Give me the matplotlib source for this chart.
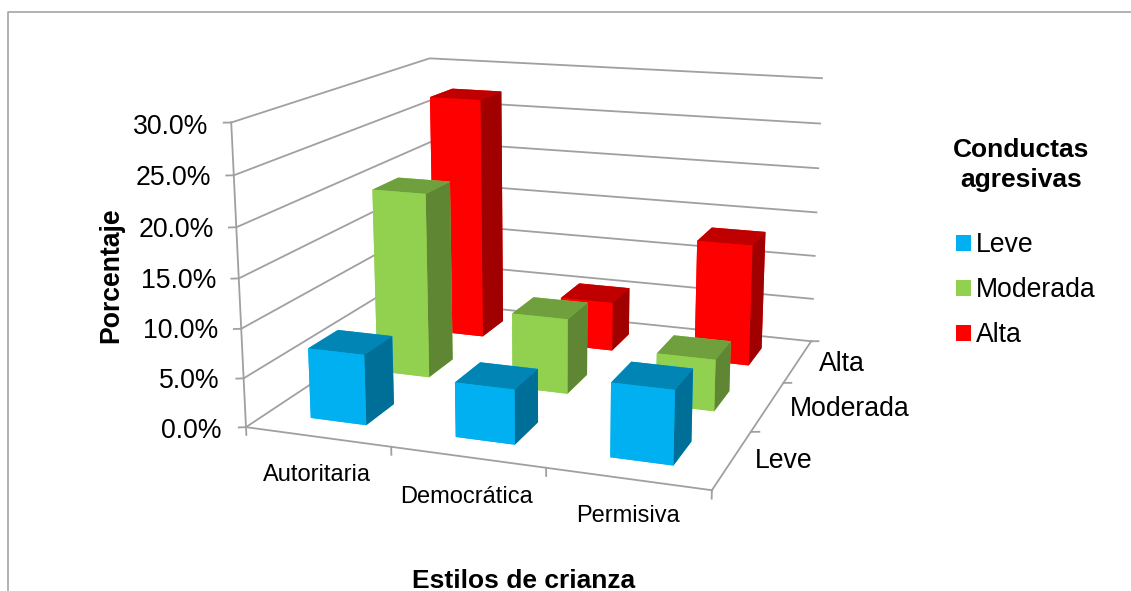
import matplotlib
matplotlib.use("Agg")
import matplotlib.pyplot as plt
from matplotlib.lines import Line2D
from matplotlib.patches import Patch

plt.rcParams["font.family"] = ["Liberation Sans", "DejaVu Sans"]

estilos = ["Autoritaria", "Democrática", "Permisiva"]
conductas = ["Leve", "Moderada", "Alta"]
leve = [7.2, 5.5, 7.3]
moderada = [19.9, 8.0, 5.4]
alta = [27.3, 5.5, 13.4]
valores = [leve, moderada, alta]
z_ticks = [0, 5, 10, 15, 20, 25, 30]

# front, top and side colour of each series
colores = {
    "Leve": ("#00B0F0", "#0085B5", "#006F98"),
    "Moderada": ("#92D050", "#70A03D", "#5F8733"),
    "Alta": ("#FF0000", "#C00000", "#A00000"),
}
GRID = "#A0A0A0"
ANCHO = 0.39
FONDO = 0.42

W, H = 1131, 591
fig = plt.figure(figsize=(W / 100, H / 100), dpi=100)

# camera fitted to the corners of the chart box
S = 304.6
ax = fig.add_axes([393.8 / W, 191.76 / H, S / W, S / H], projection="3d", computed_zorder=False)
ax.view_init(elev=14.29, azim=-70.37)
ax.set_box_aspect((1, 0.9822, 0.6451), zoom=2.2199)
ax.set_xlim(0, 3, view_margin=0)
ax.set_ylim(0, 3, view_margin=0)
ax.set_zlim(0, 30, view_margin=0)
ax.set_axis_off()
ax.patch.set_visible(False)


def linea(xs, ys, zs):
    ax.plot(xs, ys, zs, color=GRID, lw=1.3, clip_on=False, zorder=1)


# gridlines on the side and back walls, and the value ticks
for v in z_ticks:
    linea([0, 0, 3], [0, 3, 3], [v, v, v])
    linea([-0.04, 0], [-0.02, 0], [v, v])
linea([0, 0], [0, 0], [0, 30])
linea([0, 3], [0, 0], [0, 0])
linea([3, 3], [0, 3], [0, 0])

for i in range(4):
    linea([i, i], [0, 0], [0, -0.8])
    if i > 0:
        linea([3, 3.05], [i, i + 0.02], [0, 0])

# back row first so the front rows cover it
for j in [2, 1, 0]:
    frente, arriba, lado = colores[conductas[j]]
    for i, v in enumerate(valores[j]):
        caras = [frente, arriba, frente, frente, frente, lado]
        barra = ax.bar3d(i + 0.5 - ANCHO / 2, j + 0.5 - FONDO / 2, 0, ANCHO, FONDO, v,
                         color=caras, shade=False, zorder=10 + (2 - j) * 5 + i)
        barra.set_clip_on(False)

# tick labels follow the slanted value axis
for v, x, y in zip(z_ticks, [222, 220, 218, 216, 214, 211, 208], [431, 381, 331, 281, 230, 178, 127]):
    fig.text(x / W, 1 - y / H, "%.1f%%" % v, ha="right", va="center", fontsize=19.2)
for nombre, x, y in zip(estilos, [317, 467, 628], [475, 497, 516]):
    fig.text(x / W, 1 - y / H, nombre, ha="center", va="center", fontsize=17)
for nombre, x, y in zip(conductas, [784, 850, 842], [461, 409, 364]):
    fig.text(x / W, 1 - y / H, nombre, ha="center", va="center", fontsize=19.2)

fig.text(524 / W, 1 - 588 / H, "Estilos de crianza", ha="center", va="baseline",
         fontsize=19, fontweight="bold")
fig.text(111 / W, 1 - 275 / H, "Porcentaje", ha="center", va="center", rotation=90,
         fontsize=19.2, fontweight="bold")

fig.text(1021 / W, 1 - 165 / H, "Conductas\nagresivas", ha="center", va="center",
         fontsize=19, fontweight="bold", linespacing=1.29)
handles = [Patch(facecolor=colores[c][0], label=c) for c in conductas]
fig.legend(handles=handles, loc="upper left", bbox_to_anchor=(956 / W, 1 - 232 / H),
           frameon=False, fontsize=19.2, labelspacing=0.72, handlelength=0.55,
           handleheight=0.55, handletextpad=0.2, borderpad=0, borderaxespad=0)

# chart frame
fig.add_artist(Line2D([8 / W, 8 / W, 1], [0, 1 - 12 / H, 1 - 12 / H], color="#A6A6A6", lw=1.2))

fig.savefig("out.png", dpi=100)
